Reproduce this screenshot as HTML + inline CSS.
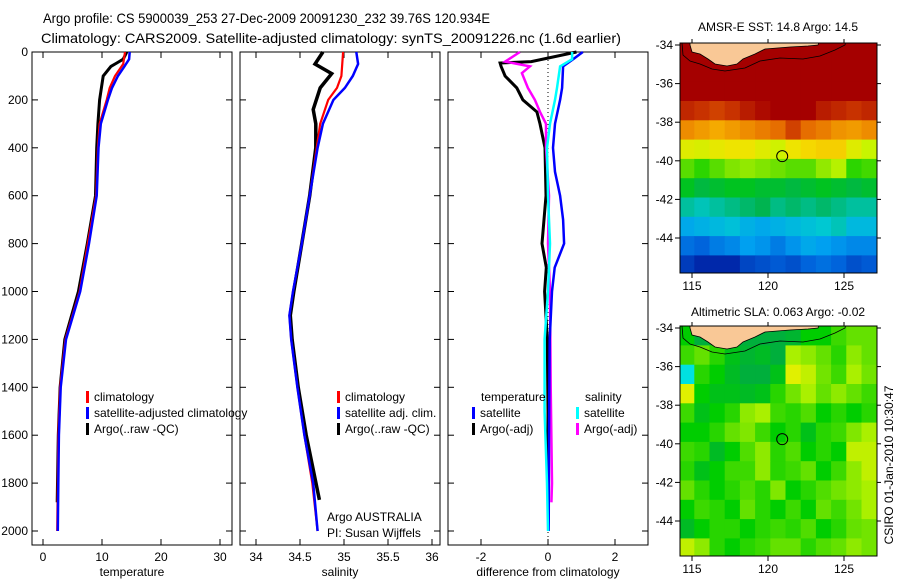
<!DOCTYPE html>
<html><head><meta charset="utf-8"><style>
html,body{margin:0;padding:0;background:#fff;}
svg{display:block;font-family:"Liberation Sans",sans-serif;}
text{font-size:12px;fill:#000;}
</style></head><body>
<svg id="fig" width="900" height="580" viewBox="0 0 900 580" xmlns="http://www.w3.org/2000/svg">
<text x="43" y="23" style="font-size:14px" textLength="447" lengthAdjust="spacingAndGlyphs">Argo profile: CS 5900039_253 27-Dec-2009 20091230_232 39.76S 120.934E</text>
<text x="41" y="43" style="font-size:14px" textLength="580" lengthAdjust="spacingAndGlyphs">Climatology: CARS2009. Satellite-adjusted climatology: synTS_20091226.nc (1.6d earlier)</text>
<text x="778" y="31" text-anchor="middle">AMSR-E SST: 14.8 Argo: 14.5</text>
<text x="778" y="316" text-anchor="middle">Altimetric SLA: 0.063 Argo: -0.02</text>
<text x="0" y="0" transform="translate(893,465) rotate(-90)" text-anchor="middle">CSIRO 01-Jan-2010 10:30:47</text>
<g id="g"></g>
</svg>
<script>
// ---- profile data (depth m, value) ----
const tClimDepth=[0,50,100,150,200,300,400,600,800,1000,1200,1400,1600,1800,2000];
const tClimVal=[13.9,13.6,12.2,11.3,10.8,9.6,9.3,9.0,7.6,6.2,3.8,2.9,2.6,2.5,2.4];
const tSatDepth=[0,30,60,100,150,200,300,400,600,800,1000,1200,1400,1600,1800,2000];
const tSatVal=[14.7,14.6,13.8,12.7,11.7,11.0,9.8,9.4,9.1,7.8,6.3,3.9,3.0,2.7,2.6,2.5];
const tArgoDepth=[0,30,46,60,100,150,200,300,400,600,800,1000,1200,1400,1600,1880];
const tArgoVal=[14.2,13.6,12.5,11.5,10.2,9.9,9.6,9.3,9.1,8.9,7.5,6.0,3.7,2.9,2.6,2.4];
const sClimDepth=[0,100,150,200,300,400,600,800,1000,1100,1200,1400,1600,1800,2000];
const sClimVal=[34.99,34.97,34.92,34.82,34.73,34.69,34.61,34.52,34.42,34.38,34.40,34.47,34.55,34.64,34.70];
const sSatDepth=[0,50,100,150,200,300,400,600,800,1000,1100,1200,1400,1600,1800,2000];
const sSatVal=[35.14,35.16,35.10,35.01,34.88,34.76,34.70,34.61,34.52,34.42,34.38,34.40,34.47,34.55,34.65,34.70];
const sArgoDepth=[0,50,90,150,240,300,400,600,800,1000,1100,1200,1400,1600,1870];
const sArgoVal=[34.76,34.67,34.86,34.73,34.65,34.68,34.68,34.61,34.52,34.43,34.39,34.41,34.48,34.57,34.72];
const dTSatDepth=[0,30,60,150,200,300,400,500,600,700,800,900,1000,1200,1600,2000];
const dTSatVal=[1.04,0.75,0.45,0.42,0.36,0.21,0.15,0.21,0.36,0.45,0.48,0.2,0.12,0.05,0.03,0.02];
const dTArgoDepth=[0,40,46,60,100,150,200,250,300,400,600,800,900,1000,1200,1500,1880];
const dTArgoVal=[0.85,-0.5,-1.43,-1.4,-1.28,-0.93,-0.75,-0.33,-0.24,-0.09,-0.06,-0.18,-0.05,-0.1,-0.02,0.0,0.0];
const dSSatDepth=[0,30,60,150,200,300,400,600,800,1000,1200,1500,1800,2000];
const dSSatVal=[0.72,0.72,0.36,0.27,0.21,0.06,-0.03,0.0,0.06,0.0,-0.1,-0.1,-0.03,0.0];
const dSArgoDepth=[0,40,60,88,150,200,250,300,400,600,800,1000,1400,1800,1880];
const dSArgoVal=[-0.84,-1.28,-0.54,-0.78,-0.6,-0.39,-0.24,-0.06,-0.06,0.03,0.0,0.06,0.08,0.12,0.1];
const depthTicks=[0,200,400,600,800,1000,1200,1400,1600,1800,2000];
const tempTicks=[0,10,20,30];
const salTicks=[34,34.5,35,35.5,36];
const salTickLabels=["34","34.5","35","35.5","36"];
const diffTicks=[-2,0,2];
// ---- map data (rows = lat -34.5 .. -45.5, cols = lon 114.65 .. 126.65) ----
const sstRows=[
[19,19,19,19,19,19,19,19,19,19,19,19,19],
[19,19,19,19,19,19,19,19,19,18.8,18.8,18.8,18.8],
[18.6,18.5,18.7,18.8,19,18.8,18.8,19,18.9,18.7,18.5,18.6,18.5],
[17.8,17.6,17.4,17.6,18,18.3,18.5,18.8,18.6,18,17.8,17.6,17.8],
[16.4,16.2,16,16.2,16.4,16.6,16.8,17.4,16.8,16.6,16.3,16.2,16.4],
[15.1,15.0,15.2,15.3,15.3,15.1,14.9,15.3,15.5,15.6,15.6,15.1,14.8],
[14.2,14.0,14.2,14.4,14.5,14.4,14.3,14.2,14.2,14.5,14.7,14.0,14.1],
[13.6,13.4,13.5,13.6,13.6,13.5,13.5,13.4,13.5,13.6,13.5,13.4,13.5],
[13,12.9,13,13.1,13.2,13.3,13.1,13.2,13.1,13.2,13.1,13,13],
[12.4,12.5,12.6,12.7,12.5,12.4,12.5,12.6,12.7,12.8,12.9,12.6,12.6],
[11.9,11.8,12,12.1,12.3,12.2,12,12.2,12.4,12.3,12.2,12.1,12.1],
[11.4,11.2,11.1,11.2,11.5,11.6,11.7,11.6,11.8,11.9,11.8,11.6,11.7]];
const slaRows=[
[0,-0.05,-0.05,-0.05,-0.05,-0.05,-0.05,-0.04,0,0,0.03,0.05,0.05],
[0.03,0.05,0.02,-0.02,-0.04,-0.03,-0.05,0.1,0.08,0.05,0.02,0.08,0.05],
[-0.2,0.02,0,-0.03,-0.05,-0.05,-0.02,0.15,0.12,0.06,0.03,0.1,0.06],
[0.15,0,-0.02,-0.02,-0.03,-0.02,0.02,0.06,0.1,0.05,0.08,0.05,0.03],
[0.03,-0.02,0,0.02,0.08,0.1,0.03,0.02,0.04,0,0.02,0,0.02],
[0,0,0.02,0.05,0.07,0.03,0,0.02,-0.02,0.02,0.03,0.07,0.1],
[0.03,0.02,-0.03,0,0.04,0.08,0.02,0.04,0,0.02,0,0.12,0.12],
[0.02,-0.02,0,0.03,0.03,0.08,0.02,0.03,0.05,0,0.03,0.08,0.12],
[0.05,0.02,0,0.02,0.04,0.02,0.07,0,0.02,0.04,0.06,0.08,0.1],
[0,0.03,0.02,0,0.05,0.02,0,0.03,0,0.05,0.03,0.06,0.1],
[-0.03,0,0.02,0.02,0,0.02,0.03,0.02,0.04,0,0.02,0.05,0.06],
[0.12,0.08,0.02,0,0.02,0.03,0.05,0.05,0.02,0.04,0.05,0.08,0.06]];
const lonTicks=[115,120,125];
const latTicks=[-34,-36,-38,-40,-42,-44];
const argoLon=120.934, argoLat=-39.76;

const NS="http://www.w3.org/2000/svg";
const G=document.getElementById('g');
function mk(tag,attrs,parent){const e=document.createElementNS(NS,tag);for(const k in attrs)e.setAttribute(k,attrs[k]);(parent||G).appendChild(e);return e;}
function txt(s,x,y,anchor,parent){const t=mk('text',{x:x,y:y,'text-anchor':anchor||'start'},parent);t.textContent=s;return t;}

const yD=d=>52+d*0.2395;
const TOP=52,BOT=545;
function panel(name,x0,x1,xs,xt,xl,xlabel){
  const g=mk('g',{});
  
  
  mk('rect',{x:x0,y:TOP,width:x1-x0,height:BOT-TOP,fill:'none',stroke:'#000','stroke-width':1},g);
  depthTicks.forEach(d=>{mk('line',{x1:x0,x2:x0+6,y1:yD(d),y2:yD(d),stroke:'#000'},g);mk('line',{x1:x1,x2:x1-6,y1:yD(d),y2:yD(d),stroke:'#000'},g);});
  xt.forEach((v,i)=>{const x=xs(v);mk('line',{x1:x,x2:x,y1:BOT,y2:BOT-6,stroke:'#000'},g);mk('line',{x1:x,x2:x,y1:TOP,y2:TOP+6,stroke:'#000'},g);const t=txt(xl[i],x,561,'middle',g);});
  const l=txt(xlabel,(x0+x1)/2,576,'middle',g);
  
  
  return g;
}
function line(g,name,xs,ds,vs,color,w){
  const pts=ds.map((d,i)=>xs(vs[i]).toFixed(1)+','+yD(d).toFixed(1)).join(' ');
  const p=mk('polyline',{points:pts,fill:'none',stroke:color,'stroke-width':w||2.5,'stroke-linejoin':'miter'},g);
  
  
}
function legend(g,items,x,y0){
  items.forEach((it,i)=>{const y=y0+i*16;mk('rect',{x:x,y:y-6,width:3,height:12,fill:it[1]},g);const t=txt(it[0],x+8,y+4,'start',g);});
}
// Panel 1 temperature
const xT=v=>43+v*5.9;
const p1=panel('temperature-panel',32,232,xT,tempTicks,tempTicks.map(String),'temperature');
depthTicks.forEach(d=>{const t=txt(String(d),28,yD(d)+4,'end',p1);});
line(p1,'temp-argo-line',xT,tArgoDepth,tArgoVal,'#000',3);
line(p1,'temp-clim-line',xT,tClimDepth,tClimVal,'#f00',2.2);
line(p1,'temp-sat-line',xT,tSatDepth,tSatVal,'#00f',2.5);
legend(p1,[['climatology','#f00'],['satellite-adjusted climatology','#00f'],['Argo(..raw -QC)','#000']],86,397);
// Panel 2 salinity
const xS=v=>256+(v-34)*88;
const p2=panel('salinity-panel',240,440,xS,salTicks,salTickLabels,'salinity');
line(p2,'sal-argo-line',xS,sArgoDepth,sArgoVal,'#000',3.5);
line(p2,'sal-clim-line',xS,sClimDepth,sClimVal,'#f00',2.2);
line(p2,'sal-sat-line',xS,sSatDepth,sSatVal,'#00f',2.5);
legend(p2,[['climatology','#f00'],['satellite adj. clim.','#00f'],['Argo(..raw -QC)','#000']],337,397);
const a1=txt('Argo AUSTRALIA',327,521,'start',p2);
const a2=txt('PI: Susan Wijffels',327,537,'start',p2);
// Panel 3 differences
const xDf=v=>548+v*33.5;
const p3=panel('difference-panel',448,648,xDf,diffTicks,diffTicks.map(String),'difference from climatology');
mk('line',{x1:xDf(0),x2:xDf(0),y1:TOP,y2:BOT,stroke:'#000','stroke-dasharray':'1,3'},p3);
line(p3,'dt-argo-line',xDf,dTArgoDepth,dTArgoVal,'#000',3);
line(p3,'ds-argo-line',xDf,dSArgoDepth,dSArgoVal,'#f0f',2.5);
line(p3,'dt-sat-line',xDf,dTSatDepth,dTSatVal,'#00f',2.5);
line(p3,'ds-sat-line',xDf,dSSatDepth,dSSatVal,'#0ff',2.5);
const lt=txt('temperature',481,401,'start',p3);
const ls=txt('salinity',585,401,'start',p3);
legend(p3,[['satellite','#00f'],['Argo(-adj)','#000']],472,413);
legend(p3,[['satellite','#0ff'],['Argo(-adj)','#f0f']],576,413);

// ---- maps ----
function sstColor(v){
  const stops=[[11.2,[0,40,170]],[11.8,[0,100,220]],[12.3,[0,160,240]],[12.8,[0,200,210]],[13.3,[0,180,80]],[13.8,[0,205,0]],[14.3,[110,225,0]],[14.8,[200,245,0]],[15.4,[245,225,0]],[16,[245,170,0]],[16.8,[230,110,0]],[17.6,[200,50,0]],[18.5,[165,0,0]]];
  return ramp(stops,v);
}
function slaColor(v){
  const stops=[[-0.2,[0,225,225]],[-0.1,[0,160,120]],[-0.05,[0,175,60]],[0,[0,205,0]],[0.05,[100,225,0]],[0.1,[170,240,0]],[0.15,[225,240,0]],[0.2,[240,210,0]]];
  return ramp(stops,v);
}
function ramp(st,v){
  if(v<=st[0][0])return 'rgb('+st[0][1]+')';
  for(let i=1;i<st.length;i++){if(v<=st[i][0]){const f=(v-st[i-1][0])/(st[i][0]-st[i-1][0]);const c=st[i-1][1].map((a,k)=>Math.round(a+(st[i][1][k]-a)*f));return 'rgb('+c+')';}}
  return 'rgb('+st[st.length-1][1]+')';
}
function map(name,top,rows,colorFn,cid){
  const L=680,R=877,B=top+230;
  const xL=lon=>692+(lon-115)*15.2;
  const yL=lat=>top+2+(-34-lat)*19.3;
  const g=mk('g',{});
  
  
  const cp=mk('clipPath',{id:cid},g);mk('rect',{x:L,y:top,width:R-L,height:B-top},cp);
  const cg=mk('g',{'clip-path':'url(#'+cid+')'},g);
  rows.forEach((row,r)=>row.forEach((v,c)=>{
    const lon0=114.15+c, lat0=-33.9-r;
    const x=xL(lon0),y=yL(lat0);
    const cell=mk('rect',{x:x.toFixed(1),y:y.toFixed(1),width:15.7,height:19.8,fill:colorFn(v)},cg);
    
    
  }));
  const o=top-42;
  const land=mk('polygon',{points:[[690,38],[690,44],[692,51],[700,53],[708,58],[715,63],[727,65],[737,63],[743,58],[755,53],[765,48],[790,46],[808,45],[818,44],[820,38]].map(p=>p[0]+','+(p[1]+o)).join(' '),fill:'#f9c896',stroke:'#000','stroke-width':0.8},cg);
  
  
  const shelf=mk('polyline',{points:[[682,42],[683,54],[690,60],[700,63],[712,68],[725,70],[745,67],[760,60],[780,57],[803,58],[820,55],[835,49],[845,44],[846,40]].map(p=>p[0]+','+(p[1]+o)).join(' '),fill:'none',stroke:'#000','stroke-width':0.8},cg);
  
  
  mk('rect',{x:L,y:top,width:R-L,height:B-top,fill:'none',stroke:'#000'},g);
  lonTicks.forEach(v=>{const x=xL(v);mk('line',{x1:x,x2:x,y1:B,y2:B+5,stroke:'#000'},g);mk('line',{x1:x,x2:x,y1:top,y2:top-4,stroke:'#000'},g);const t=txt(String(v),x,B+17,'middle',g);});
  latTicks.forEach(v=>{const y=yL(v);mk('line',{x1:L,x2:L-5,y1:y,y2:y,stroke:'#000'},g);mk('line',{x1:R,x2:R+4,y1:y,y2:y,stroke:'#000'},g);const t=txt(String(v),L-7,y+4,'end',g);});
  const c=mk('circle',{cx:xL(argoLon),cy:yL(argoLat),r:5.5,fill:'none',stroke:'#000','stroke-width':1},g);
  
  
}
map('sst-map',43,sstRows,sstColor,'c1');
map('sla-map',326,slaRows,slaColor,'c2');
</script>
</body></html>
